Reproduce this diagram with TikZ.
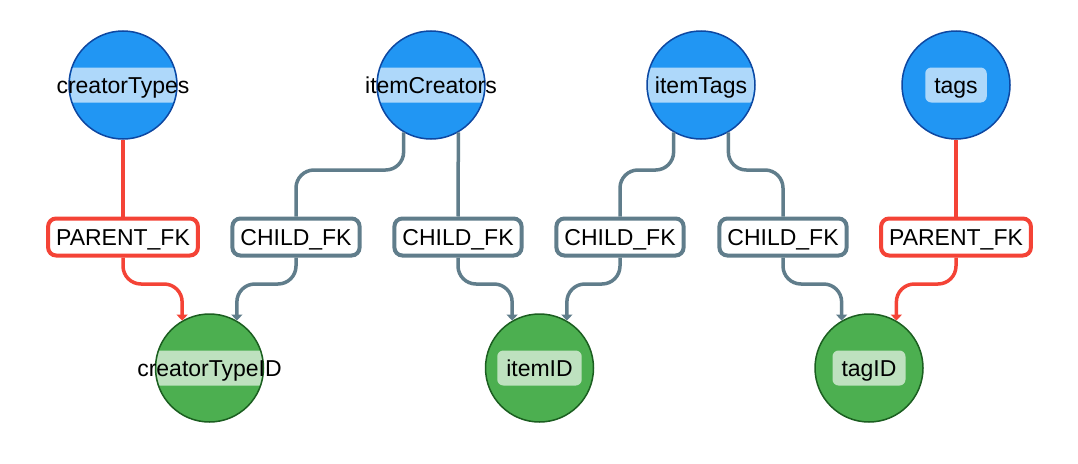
\documentclass[tikz,border=0pt]{standalone}
\usepackage{fontspec}
\setmainfont{Liberation Sans}
\usetikzlibrary{arrows.meta}
\definecolor{cblue}{HTML}{2196F3}
\definecolor{cbluedark}{HTML}{0D47A1}
\definecolor{cbluelight}{HTML}{BBDEFB}
\definecolor{cgreen}{HTML}{4CAF50}
\definecolor{cgreendark}{HTML}{1B5E20}
\definecolor{cgreenlight}{HTML}{C8E6C9}
\definecolor{cred}{HTML}{F44336}
\definecolor{cgray}{HTML}{607D8B}
\begin{document}
\begin{tikzpicture}[x=1pt,y=-1pt,
  font=\fontsize{23}{27}\selectfont,
  fixedtext/.style={text height=16.5pt, text depth=0pt},
  tblnode/.style={circle, minimum size=108pt, inner sep=0pt, fill=cblue, draw=cbluedark, line width=1.5pt},
  colnode/.style={circle, minimum size=108pt, inner sep=0pt, fill=cgreen, draw=cgreendark, line width=1.5pt},
  bandbox/.style={fixedtext, rounded corners=6pt, minimum height=35pt, inner xsep=9pt, inner ysep=0pt, fill opacity=0.92, text opacity=0},
  txtnode/.style={fixedtext, inner sep=0pt, text=black},
  fkbox/.style={fixedtext, rounded corners=8pt, minimum height=37pt, inner xsep=8pt, inner ysep=0pt, fill=white, line width=4pt},
  redbox/.style={fkbox, draw=cred},
  graybox/.style={fkbox, draw=cgray},
  redline/.style={draw=cred, line width=3.5pt, rounded corners=18pt},
  grayline/.style={draw=cgray, line width=3.5pt, rounded corners=18pt},
  tipped/.style={-{Triangle[length=6pt,width=11pt]}}
]
\useasboundingbox (0,0) rectangle (1078,463);

% circles
\node[tblnode] (ct) at (123,85) {};
\node[tblnode] (ic) at (431,85) {};
\node[tblnode] (it) at (701,85) {};
\node[tblnode] (tg) at (956,85) {};
\node[colnode] (ctid) at (209.5,368) {};
\node[colnode] (iid) at (539.5,368) {};
\node[colnode] (tid) at (869,368) {};

% bands (clipped to circles)
\begin{scope}\clip (ct.center) circle[radius=53pt];
  \node[bandbox, fill=cbluelight] (ctb) at (ct.center) {creatorTypes};\end{scope}
\begin{scope}\clip (ic.center) circle[radius=53pt];
  \node[bandbox, fill=cbluelight] (icb) at (ic.center) {itemCreators};\end{scope}
\begin{scope}\clip (it.center) circle[radius=53pt];
  \node[bandbox, fill=cbluelight] (itb) at (it.center) {itemTags};\end{scope}
\begin{scope}\clip (tg.center) circle[radius=53pt];
  \node[bandbox, fill=cbluelight] (tgb) at (tg.center) {tags};\end{scope}
\begin{scope}\clip (ctid.center) circle[radius=53pt];
  \node[bandbox, fill=cgreenlight] (ctidb) at (ctid.center) {creatorTypeID};\end{scope}
\begin{scope}\clip (iid.center) circle[radius=53pt];
  \node[bandbox, fill=cgreenlight] (iidb) at (iid.center) {itemID};\end{scope}
\begin{scope}\clip (tid.center) circle[radius=53pt];
  \node[bandbox, fill=cgreenlight] (tidb) at (tid.center) {tagID};\end{scope}

% texts
\node[txtnode] (ctt) at (ct.center) {creatorTypes};
\node[txtnode] (ict) at (ic.center) {itemCreators};
\node[txtnode] (itt) at (it.center) {itemTags};
\node[txtnode] (tgt) at (tg.center) {tags};
\node[txtnode] (ctidt) at (ctid.center) {creatorTypeID};
\node[txtnode] (iidt) at (iid.center) {itemID};
\node[txtnode] (tidt) at (tid.center) {tagID};

% FK labels
\node[redbox] (pk1) at (123,237) {PARENT\_FK};
\node[graybox] (cf1) at (296,237) {CHILD\_FK};
\node[graybox] (cf2) at (458,237) {CHILD\_FK};
\node[graybox] (cf3) at (620,237) {CHILD\_FK};
\node[graybox] (cf4) at (783,237) {CHILD\_FK};
\node[redbox] (pk2) at (956,237) {PARENT\_FK};

% upper edges
\draw[redline] (ct) -- (pk1);
\draw[grayline] (ic.-120) -- (ic.-120 |- 0,170) -- (cf1.north |- 0,170) -- (cf1.north);
\draw[grayline] (ic.-60) -- (cf2.north);
\draw[grayline] (it.-120) -- (it.-120 |- 0,170) -- (cf3.north |- 0,170) -- (cf3.north);
\draw[grayline] (it.-60) -- (it.-60 |- 0,170) -- (cf4.north |- 0,170) -- (cf4.north);
\draw[redline] (tg) -- (pk2);

% lower edges
\draw[redline, tipped] (pk1.south) -- (pk1.south |- 0,284) -- (ctid.120 |- 0,284) -- (ctid.120);
\draw[grayline, tipped] (cf1.south) -- (cf1.south |- 0,284) -- (ctid.60 |- 0,284) -- (ctid.60);
\draw[grayline, tipped] (cf2.south) -- (cf2.south |- 0,284) -- (iid.120 |- 0,284) -- (iid.120);
\draw[grayline, tipped] (cf3.south) -- (cf3.south |- 0,284) -- (iid.60 |- 0,284) -- (iid.60);
\draw[grayline, tipped] (cf4.south) -- (cf4.south |- 0,284) -- (tid.120 |- 0,284) -- (tid.120);
\draw[redline, tipped] (pk2.south) -- (pk2.south |- 0,284) -- (tid.60 |- 0,284) -- (tid.60);
\end{tikzpicture}
\end{document}
